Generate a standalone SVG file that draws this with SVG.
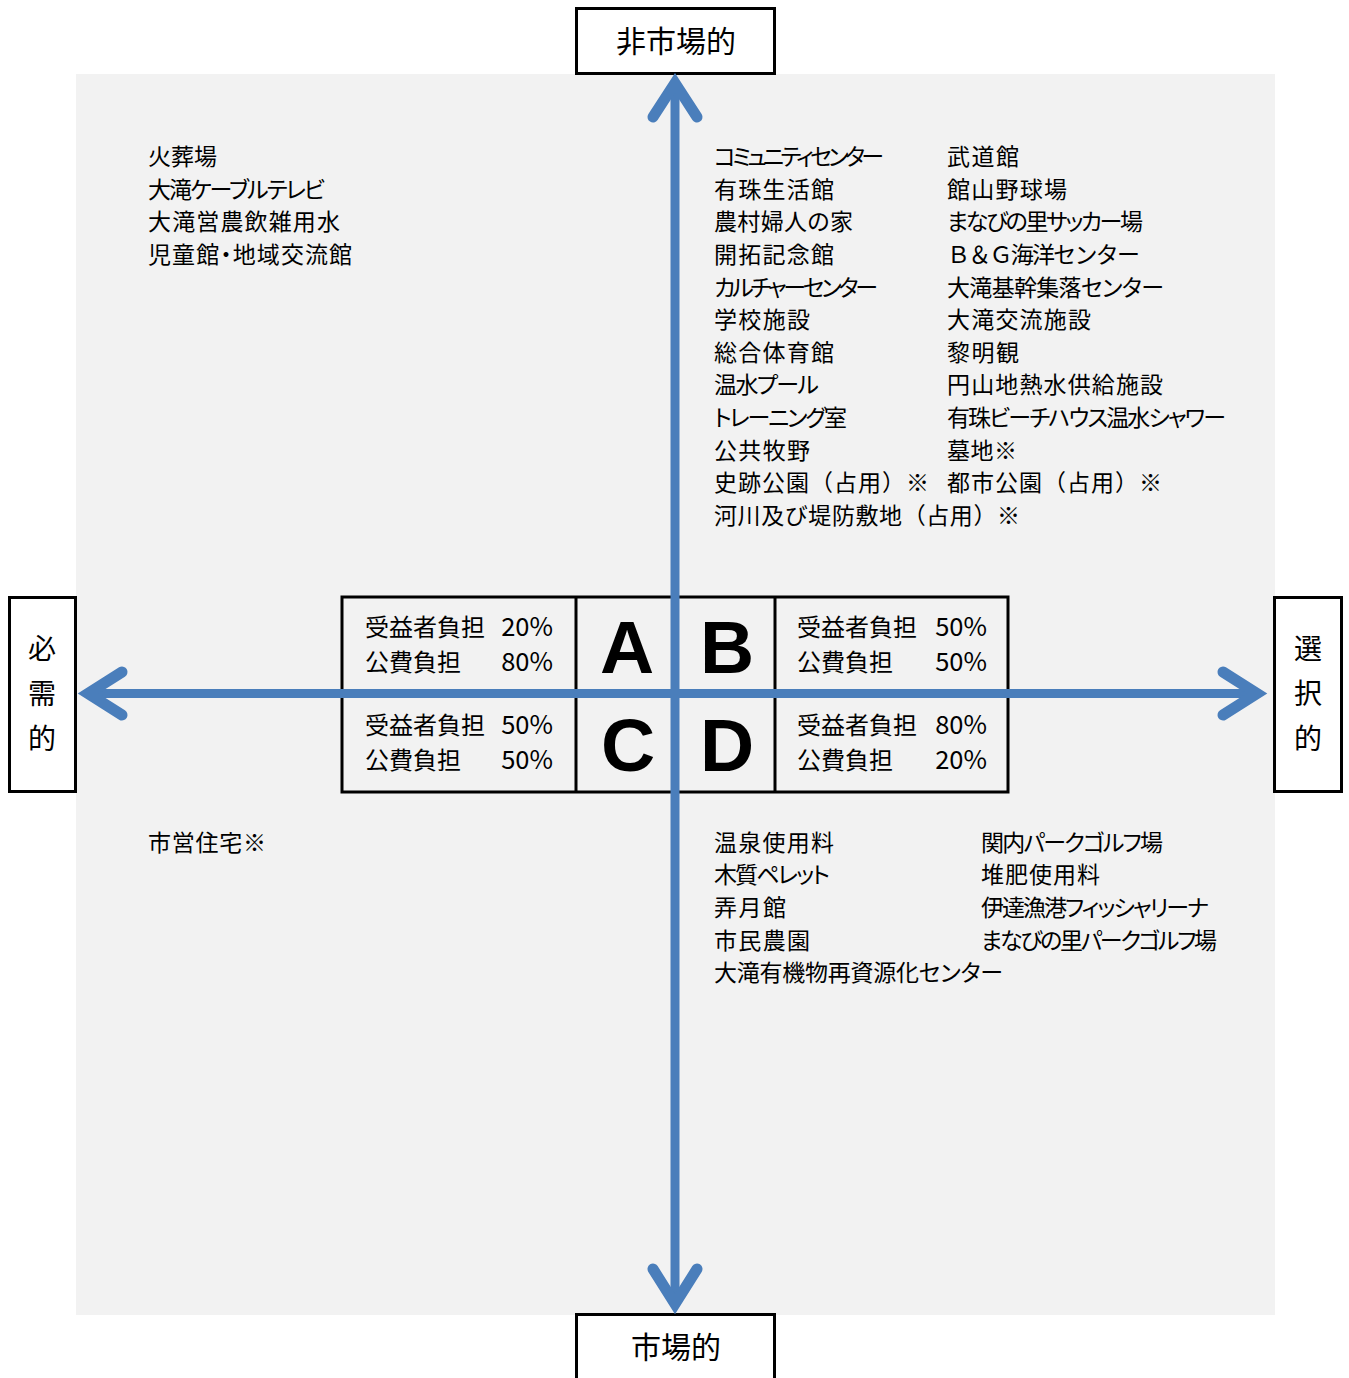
<svg xmlns="http://www.w3.org/2000/svg" width="1349" height="1378" viewBox="0 0 1349 1378">
<style>
text{font-family:"Noto Sans CJK JP","Noto Sans",sans-serif;fill:#000}
.t{font-size:23px}
.p{font-feature-settings:"palt"}
.c{font-size:24px}
.pc{font-size:25.5px;text-anchor:end}
.ax{font-size:30px;text-anchor:middle}
.v{font-size:28px;text-anchor:middle}
.big{font-family:"Liberation Sans",Arial,sans-serif;font-weight:bold;font-size:75px;text-anchor:middle}
.box{fill:#fff;stroke:#000;stroke-width:3}
.tbl{fill:#f2f2f2;stroke:#000;stroke-width:3}
.shaft{stroke:#4a7ebb;stroke-width:9;fill:none}
.head{stroke:#4a7ebb;stroke-width:11;fill:none;stroke-linecap:round;stroke-linejoin:miter}
</style>
<rect x="76" y="74" width="1199" height="1241" fill="#f2f2f2"/>

<g id="node-top"><rect class="box" x="576.5" y="8.5" width="198" height="65"/><text class="ax" x="676" y="52">非市場的</text></g>
<g id="node-bottom"><rect class="box" x="576.5" y="1314.5" width="198" height="80"/><text class="ax" x="676" y="1358">市場的</text></g>
<g id="node-left"><rect class="box" x="9.5" y="597.5" width="66" height="194"/><text class="v" x="42" y="659">必</text><text class="v" x="42" y="704">需</text><text class="v" x="42" y="749">的</text></g>
<g id="node-right"><rect class="box" x="1274.5" y="597.5" width="67" height="194"/><text class="v" x="1308" y="659">選</text><text class="v" x="1308" y="704">択</text><text class="v" x="1308" y="749">的</text></g>

<g id="node-table">
<rect class="tbl" x="342" y="597" width="666" height="195"/>
<line x1="576" y1="597" x2="576" y2="792" stroke="#000" stroke-width="3"/>
<line x1="775" y1="597" x2="775" y2="792" stroke="#000" stroke-width="3"/>
<text class="c" x="365" y="636">受益者負担</text><text class="pc" x="553" y="636">20%</text>
<text class="c" x="365" y="671">公費負担</text><text class="pc" x="553" y="671">80%</text>
<text class="c" x="365" y="734">受益者負担</text><text class="pc" x="553" y="734">50%</text>
<text class="c" x="365" y="769">公費負担</text><text class="pc" x="553" y="769">50%</text>
<text class="c" x="797" y="636">受益者負担</text><text class="pc" x="987" y="636">50%</text>
<text class="c" x="797" y="671">公費負担</text><text class="pc" x="987" y="671">50%</text>
<text class="c" x="797" y="734">受益者負担</text><text class="pc" x="987" y="734">80%</text>
<text class="c" x="797" y="769">公費負担</text><text class="pc" x="987" y="769">20%</text>
<text class="big" x="627" y="673">A</text>
<text class="big" x="727" y="673">B</text>
<text class="big" x="628" y="771">C</text>
<text class="big" x="727" y="771">D</text>
</g>

<g id="connectors">
<line class="shaft" x1="675" y1="84" x2="675" y2="1304"/>
<line class="shaft" x1="88" y1="693.5" x2="1257" y2="693.5"/>
<polyline class="head" points="653,117 675,83 697,117"/>
<polyline class="head" points="653,1269 675,1304 697,1269"/>
<polyline class="head" points="122,672 88,693.5 122,715"/>
<polyline class="head" points="1223,672 1257,693.5 1223,715"/>
</g>

<g id="list-upper-left">
<text class="t" x="148" y="165">火葬場</text>
<text class="t p" x="148" y="198" textLength="177">大滝ケーブルテレビ</text>
<text class="t" x="148" y="230" textLength="192">大滝営農飲雑用水</text>
<text class="t p" x="148" y="263" textLength="204">児童館・地域交流館</text>
</g>

<g id="list-upper-right-1">
<text class="t p" x="714" y="165" textLength="170">コミュニティセンター</text>
<text class="t" x="714" y="198" textLength="120">有珠生活館</text>
<text class="t p" x="714" y="230" textLength="139">農村婦人の家</text>
<text class="t" x="714" y="263" textLength="120">開拓記念館</text>
<text class="t p" x="714" y="296" textLength="164">カルチャーセンター</text>
<text class="t" x="714" y="328" textLength="96">学校施設</text>
<text class="t" x="714" y="361" textLength="120">総合体育館</text>
<text class="t p" x="714" y="393" textLength="105">温水プール</text>
<text class="t p" x="714" y="426" textLength="133">トレーニング室</text>
<text class="t" x="714" y="459" textLength="96">公共牧野</text>
<text class="t" x="714" y="491" textLength="215">史跡公園（占用）※</text>
<text class="t" x="714" y="524" textLength="306">河川及び堤防敷地（占用）※</text>
</g>

<g id="list-upper-right-2">
<text class="t" x="947" y="165" textLength="72">武道館</text>
<text class="t" x="947" y="198" textLength="120">館山野球場</text>
<text class="t p" x="947" y="230" textLength="196">まなびの里サッカー場</text>
<text class="t" x="947" y="263" textLength="193">Ｂ＆Ｇ海洋センター</text>
<text class="t p" x="947" y="296" textLength="217">大滝基幹集落センター</text>
<text class="t" x="947" y="328" textLength="144">大滝交流施設</text>
<text class="t" x="947" y="361" textLength="72">黎明観</text>
<text class="t" x="947" y="393" textLength="216">円山地熱水供給施設</text>
<text class="t p" x="947" y="426" textLength="279">有珠ビーチハウス温水シャワー</text>
<text class="t" x="947" y="459" textLength="70">墓地※</text>
<text class="t" x="947" y="491" textLength="215">都市公園（占用）※</text>
</g>

<g id="list-lower-left">
<text class="t" x="148" y="851" textLength="118">市営住宅※</text>
</g>

<g id="list-lower-right-1">
<text class="t" x="714" y="851" textLength="120">温泉使用料</text>
<text class="t p" x="714" y="883" textLength="116">木質ペレット</text>
<text class="t" x="714" y="916" textLength="72">弄月館</text>
<text class="t" x="714" y="949" textLength="96">市民農園</text>
<text class="t p" x="714" y="981" textLength="289">大滝有機物再資源化センター</text>
</g>

<g id="list-lower-right-2">
<text class="t p" x="981" y="851" textLength="182">関内パークゴルフ場</text>
<text class="t" x="981" y="883" textLength="119">堆肥使用料</text>
<text class="t p" x="981" y="916" textLength="228">伊達漁港フィッシャリーナ</text>
<text class="t p" x="981" y="949" textLength="236">まなびの里パークゴルフ場</text>
</g>
</svg>
